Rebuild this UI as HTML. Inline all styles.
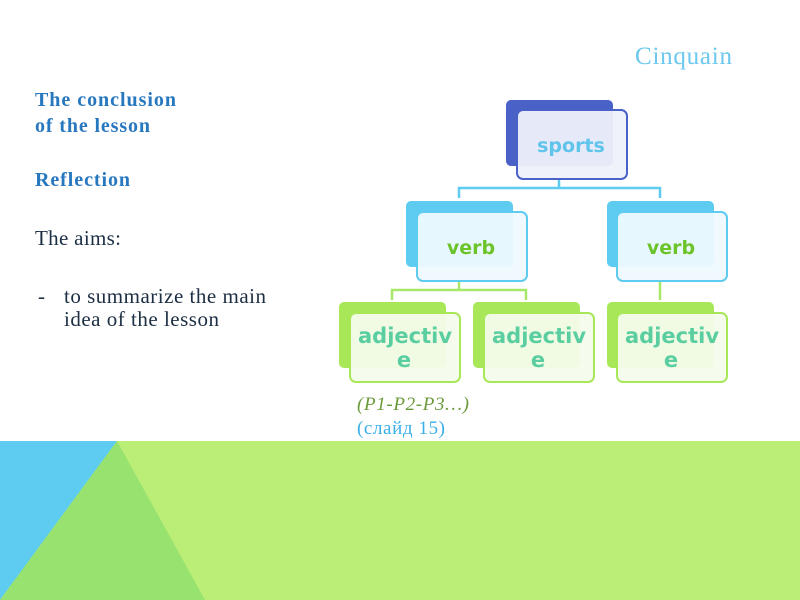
<!DOCTYPE html>
<html><head><meta charset="utf-8"><style>
body{margin:0;width:800px;height:600px;overflow:hidden;background:#fff}
svg{display:block}
</style></head><body>
<svg width="800" height="600" xmlns="http://www.w3.org/2000/svg">
<rect x="0" y="441" width="800" height="159" fill="#baee76"/>
<polygon points="0,441 117,441 0,600" fill="#5ecbf0"/>
<polygon points="117,441 205,600 0,600" fill="#98e270"/>
<text x="635" y="64" textLength="97" font-family="Liberation Serif, serif" font-size="25" fill="#6cc8ee">Cinquain</text>
<g font-family="Liberation Serif, serif" font-size="20" font-weight="bold" fill="#2878c0">
<text x="35" y="106" textLength="141">The conclusion</text>
<text x="35" y="132" textLength="115">of the lesson</text>
<text x="35" y="186" textLength="95">Reflection</text>
</g>
<g font-family="Liberation Serif, serif" font-size="21" fill="#1c2e44">
<text x="35" y="245" textLength="86">The aims:</text>
<text x="38" y="303">-</text>
<text x="64" y="303" textLength="202">to summarize the main</text>
<text x="64" y="326" textLength="155">idea of the lesson</text>
</g>
<g fill="none" stroke-width="2.5">
<path d="M559 179 V188 M459 198 V188 H660 V198" stroke="#5ecbf0"/>
<path d="M459 281 V290 M392 300 V290 H526 V300 M660 281 V300" stroke="#a8e868"/>
</g>
<rect x="506" y="100" width="107" height="66" rx="5" fill="#4a62c8"/>
<rect x="517" y="110" width="110" height="69" rx="6" fill="#eef0fb" fill-opacity="0.95" stroke="#4a62c8" stroke-width="2"/>
<rect x="406" y="201" width="107" height="66" rx="5" fill="#5ecbf0"/>
<rect x="417" y="212" width="110" height="69" rx="6" fill="#eef9fe" fill-opacity="0.95" stroke="#5ecbf0" stroke-width="2"/>
<rect x="607" y="201" width="107" height="66" rx="5" fill="#5ecbf0"/>
<rect x="617" y="212" width="110" height="69" rx="6" fill="#eef9fe" fill-opacity="0.95" stroke="#5ecbf0" stroke-width="2"/>
<rect x="339" y="302" width="107" height="66" rx="5" fill="#a8e858"/>
<rect x="350" y="313" width="110" height="69" rx="6" fill="#f4fcec" fill-opacity="0.95" stroke="#a8e858" stroke-width="2"/>
<rect x="473" y="302" width="107" height="66" rx="5" fill="#a8e858"/>
<rect x="484" y="313" width="110" height="69" rx="6" fill="#f4fcec" fill-opacity="0.95" stroke="#a8e858" stroke-width="2"/>
<rect x="607" y="302" width="107" height="66" rx="5" fill="#a8e858"/>
<rect x="617" y="313" width="110" height="69" rx="6" fill="#f4fcec" fill-opacity="0.95" stroke="#a8e858" stroke-width="2"/>
<g font-family="DejaVu Sans, sans-serif" font-size="19" font-weight="bold" text-anchor="middle">
<text x="571" y="152" fill="#5ec4ec">sports</text>
<text x="471" y="254" fill="#6cc32a">verb</text>
<text x="671" y="254" fill="#6cc32a">verb</text>
<g fill="#5acea0" font-size="21">
<text x="405" y="343">adjectiv</text><text x="404" y="367">e</text>
<text x="539" y="343">adjectiv</text><text x="538" y="367">e</text>
<text x="672" y="343">adjectiv</text><text x="671" y="367">e</text>
</g>
</g>
<text x="357" y="410" textLength="112" font-family="Liberation Serif, serif" font-size="19" font-style="italic" fill="#6a9a3a">(P1-P2-P3…)</text>
<text x="357" y="434" textLength="88" font-family="Liberation Serif, serif" font-size="19" fill="#3aaee8">(слайд 15)</text>
</svg>
</body></html>
